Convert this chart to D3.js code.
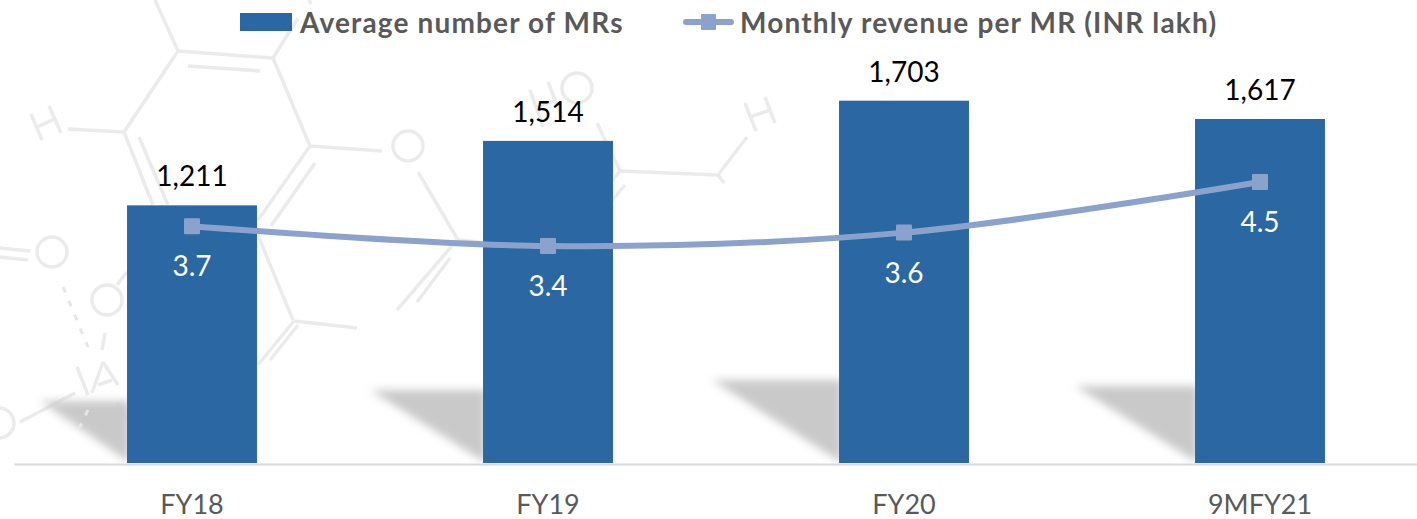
<!DOCTYPE html>
<html lang="en">
	<head>
		<meta charset="utf-8">
		<title>D3: MRs and monthly revenue per MR</title>
		<script type="text/javascript" src="https://cdnjs.cloudflare.com/ajax/libs/d3/7.8.5/d3.min.js"></script>
		<style type="text/css">
			html, body { margin: 0; padding: 0; background: #fff; overflow: hidden; }
			svg { display: block; }
			text { font-family: Lato, "Open Sans", sans-serif; }
		</style>
	</head>
	<body>
		<script type="text/javascript">

			//Chart data
			var categories = ["FY18", "FY19", "FY20", "9MFY21"];
			var avgMRs = [1211, 1514, 1703, 1617];
			var revenuePerMR = [3.74, 3.40, 3.63, 4.50];
			var legendLabels = ["Average number of MRs", "Monthly revenue per MR (INR lakh)"];

			//Background artwork, not data: molecule watermark and bar shadows
			var bonds = [
				[155,0,178,51],[178,51,273,58],[188,66,260,71],[273,58,310,146],[273,58,298,18],[309,0,311,4],
				[178,51,124,132],[124,132,68,129],[31,114,42,140],[49,106,61,133],[37,127,55,119],
				[124,132,153,205],[139,137,168,205],
				[310,146,258,220],[315,163,271,226],[310,146,382,151],
				[418,172,458,240],[458,240,490,243],[457,240,397,310],[450,258,417,302],
				[620,171,718,175],[718,175,747,137],[718,175,724,183],[745,103,756,131],[765,97,775,123],[750,117,770,110],
				[620,171,597,123],[620,171,560,245],[625,185,600,215],
				[530,90,543,127],[548,82,562,118],[536,108,556,100],
				[257,233,293,320],[294,321,258,365],[298,325,270,360],[294,321,357,328],
				[0,248,30,251],[0,257,28,260],[127,272,117,285],[105,333,102,350],
				[77,367,88,395],[92,393,103,362],[103,362,118,385],[98,385,112,380],
				[20,422,75,393],[117,402,130,425]
			];
			var dashedBonds = [[63,287,88,347],[88,410,75,437]];
			var rings = [[408,146,15],[577,88,15],[52,252,15],[107,300,15],[-1,423,15]];
			var shadows = [
				[[40,401],[130,401],[130,463]],
				[[370,390],[486,390],[486,463]],
				[[712,380],[842,380],[842,463]],
				[[1075,386],[1198,386],[1198,463]]
			];

			//Width and height
			var w = 1417;
			var h = 519;
			var baseline = 463;

			//Scales
			var x = d3.scaleBand()
					  .domain(categories)
					  .range([14, 1438])
					  .paddingInner(0.635)
					  .paddingOuter(0.3175);

			var yBar = d3.scaleLinear()
						 .domain([0, 2000])
						 .range([baseline, 37.5]);

			var yLine = d3.scaleLinear()
						  .domain([3.4, 4.5])
						  .range([246, 182]);

			//Create SVG element
			var svg = d3.select("body")
						.append("svg")
						.attr("width", w)
						.attr("height", h);

			var defs = svg.append("defs");

			var blur = defs.append("filter")
						   .attr("id", "soft")
						   .attr("x", "-20%").attr("y", "-30%")
						   .attr("width", "140%").attr("height", "160%");
			blur.append("feGaussianBlur").attr("stdDeviation", 4.5);

			var blurMark = defs.append("filter")
							   .attr("id", "softMark")
							   .attr("filterUnits", "userSpaceOnUse")
							   .attr("x", -10).attr("y", -10)
							   .attr("width", 820).attr("height", 480);
			blurMark.append("feGaussianBlur").attr("stdDeviation", 0.6);

			//Watermark
			var mark = svg.append("g")
						  .attr("fill", "none")
						  .attr("stroke", "#ebebeb")
						  .attr("stroke-width", 3.5)
						  .attr("filter", "url(#softMark)");

			mark.selectAll("line.bond")
				.data(bonds)
				.enter()
				.append("line")
				.attr("class", "bond")
				.attr("x1", function(d) { return d[0]; })
				.attr("y1", function(d) { return d[1]; })
				.attr("x2", function(d) { return d[2]; })
				.attr("y2", function(d) { return d[3]; });

			mark.selectAll("circle")
				.data(rings)
				.enter()
				.append("circle")
				.attr("cx", function(d) { return d[0]; })
				.attr("cy", function(d) { return d[1]; })
				.attr("r", function(d) { return d[2]; });

			//Shadows
			svg.append("g")
			   .selectAll("polygon")
			   .data(shadows)
			   .enter()
			   .append("polygon")
			   .attr("points", function(d) { return d.join(" "); })
			   .attr("fill", "#c9c9c9")
			   .attr("filter", "url(#soft)");

			//Dashed bonds sit over the shadow
			svg.append("g")
			   .selectAll("line")
			   .data(dashedBonds)
			   .enter()
			   .append("line")
			   .attr("x1", function(d) { return d[0]; })
			   .attr("y1", function(d) { return d[1]; })
			   .attr("x2", function(d) { return d[2]; })
			   .attr("y2", function(d) { return d[3]; })
			   .attr("stroke", "#e6e6e6")
			   .attr("stroke-width", 3)
			   .attr("stroke-dasharray", "6 9");

			//Bars
			svg.selectAll("rect.bar")
			   .data(avgMRs)
			   .enter()
			   .append("rect")
			   .attr("class", "bar")
			   .attr("x", function(d, i) { return x(categories[i]); })
			   .attr("y", function(d) { return yBar(d); })
			   .attr("width", x.bandwidth())
			   .attr("height", function(d) { return baseline - yBar(d); })
			   .attr("fill", "#2a67a3");

			//Axis
			var axis = svg.append("g")
						  .attr("transform", "translate(0," + (baseline + 1) + ")")
						  .call(d3.axisBottom(x).tickSize(0));
			axis.select(".domain")
				.attr("stroke", "#d9d9d9")
				.attr("stroke-width", 2);
			axis.selectAll("text")
				.attr("y", 49.5)
				.attr("dy", 0)
				.attr("fill", "#595959")
				.attr("font-family", "Lato")
				.attr("font-size", "27px");

			//Line
			var line = d3.line()
						 .x(function(d, i) { return x(categories[i]) + x.bandwidth() / 2; })
						 .y(function(d) { return yLine(d); })
						 .curve(d3.curveCardinal.tension(0));

			svg.append("path")
			   .datum(revenuePerMR)
			   .attr("d", line)
			   .attr("fill", "none")
			   .attr("stroke", "#8ba3cc")
			   .attr("stroke-width", 6)
			   .attr("stroke-linecap", "round");

			svg.selectAll("rect.marker")
			   .data(revenuePerMR)
			   .enter()
			   .append("rect")
			   .attr("class", "marker")
			   .attr("x", function(d, i) { return x(categories[i]) + x.bandwidth() / 2 - 8; })
			   .attr("y", function(d) { return yLine(d) - 8; })
			   .attr("width", 16)
			   .attr("height", 16)
			   .attr("rx", 1)
			   .attr("fill", "#8ba3cc");

			//Data labels
			svg.selectAll("text.barLabel")
			   .data(avgMRs)
			   .enter()
			   .append("text")
			   .attr("class", "barLabel")
			   .text(function(d) { return d3.format(",")(d); })
			   .attr("x", function(d, i) { return x(categories[i]) + x.bandwidth() / 2; })
			   .attr("y", function(d) { return yBar(d) - 19; })
			   .attr("text-anchor", "middle")
			   .attr("font-size", "28px")
			   .attr("fill", "#000");

			svg.selectAll("text.lineLabel")
			   .data(revenuePerMR)
			   .enter()
			   .append("text")
			   .attr("class", "lineLabel")
			   .text(function(d) { return d3.format(".1f")(d); })
			   .attr("x", function(d, i) { return x(categories[i]) + x.bandwidth() / 2; })
			   .attr("y", function(d) { return yLine(d) + 50; })
			   .attr("text-anchor", "middle")
			   .attr("font-size", "28px")
			   .attr("fill", "#fff");

			//Legend
			svg.append("rect")
			   .attr("x", 240)
			   .attr("y", 13)
			   .attr("width", 52)
			   .attr("height", 18)
			   .attr("fill", "#2a67a3");

			svg.append("line")
			   .attr("x1", 686).attr("y1", 22)
			   .attr("x2", 731).attr("y2", 22)
			   .attr("stroke", "#8ba3cc")
			   .attr("stroke-width", 6)
			   .attr("stroke-linecap", "round");

			svg.append("rect")
			   .attr("x", 701)
			   .attr("y", 14)
			   .attr("width", 15)
			   .attr("height", 16)
			   .attr("rx", 1)
			   .attr("fill", "#8ba3cc");

			svg.selectAll("text.legend")
			   .data(legendLabels)
			   .enter()
			   .append("text")
			   .attr("class", "legend")
			   .text(function(d) { return d; })
			   .attr("x", function(d, i) { return i == 0 ? 300 : 740; })
			   .attr("y", 33)
			   .attr("font-size", "28px")
			   .attr("font-weight", "bold")
			   .attr("letter-spacing", "1.15px")
			   .attr("fill", "#595959");

		</script>
	</body>
</html>
